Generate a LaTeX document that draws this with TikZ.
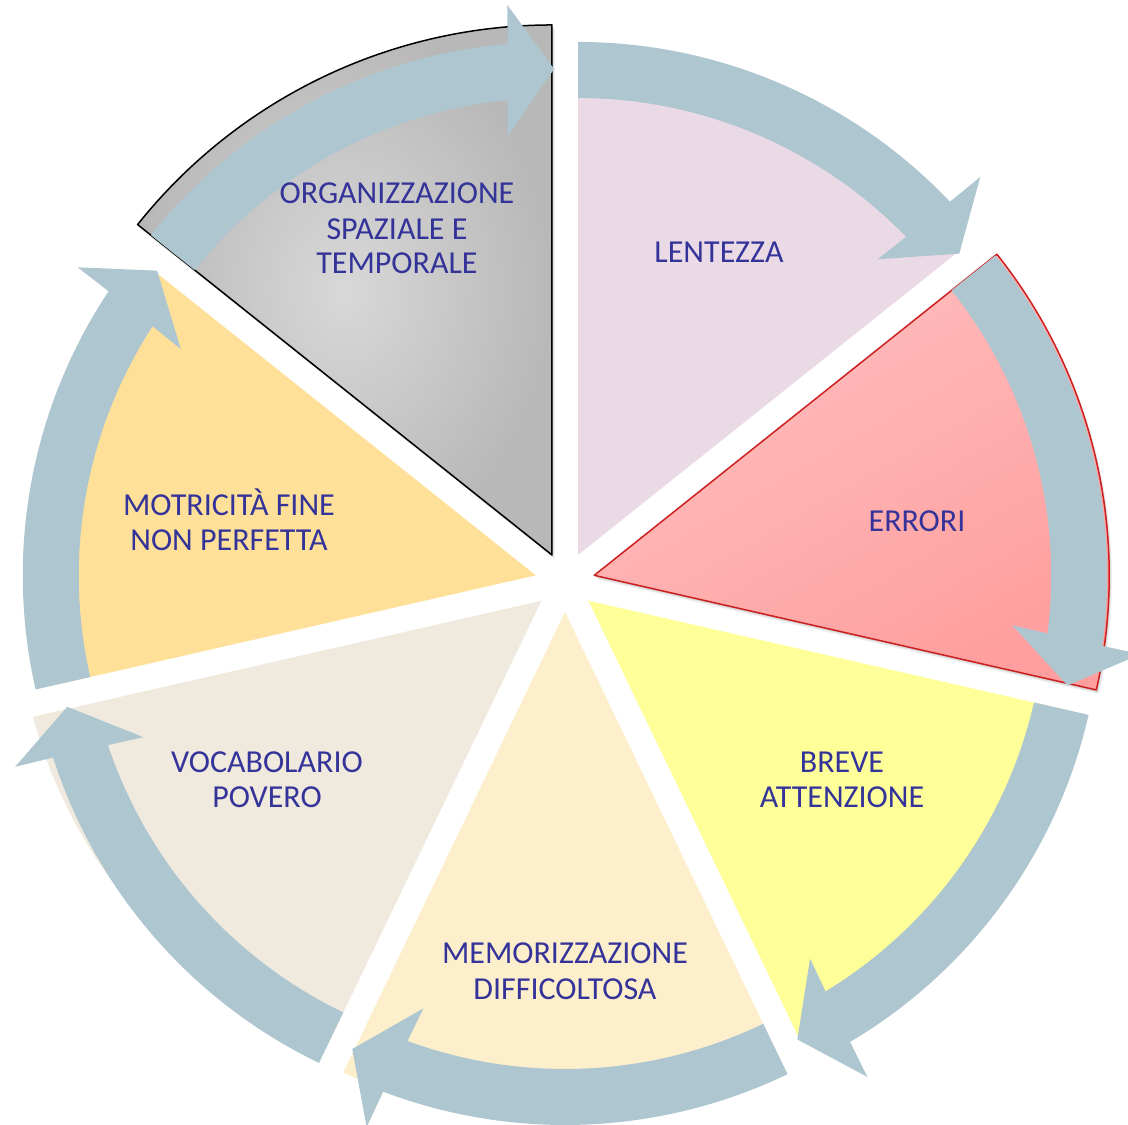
\documentclass[tikz,border=0pt]{standalone}
\usepackage{fontspec}
\setmainfont{Carlito}
\definecolor{arrowc}{RGB}{174,198,207}
\definecolor{lent}{RGB}{234,218,230}
\definecolor{errA}{RGB}{255,192,192}
\definecolor{errB}{RGB}{255,158,158}
\definecolor{errline}{RGB}{204,32,32}
\definecolor{breve}{RGB}{255,255,153}
\definecolor{memo}{RGB}{253,239,204}
\definecolor{voca}{RGB}{240,233,222}
\definecolor{motr}{RGB}{255,224,153}
\definecolor{grayA}{RGB}{216,216,216}
\definecolor{grayB}{RGB}{184,184,184}
\definecolor{txt}{RGB}{51,51,153}
% #1 start angle (ccw edge), #2 tip angle
\newcommand{\segarrow}[2]{%
  \fill[arrowc] (#1:513) arc[start angle=#1, end angle={#2+5.2}, radius=513]
    -- ({#2+4.9}:552) -- (#2:486) -- ({#2+6.3}:421) -- ({#2+5.8}:457)
    arc[start angle={#2+5.8}, end angle=#1, radius=457] -- cycle;}
\begin{document}
\begin{tikzpicture}[x=1pt,y=1pt,
  lbl/.style={text=txt, font=\fontsize{32}{36}\selectfont, inner sep=0pt, anchor=base}]
\useasboundingbox (-565,-543) rectangle (563,582);

% ---- slices ----
% ORGANIZZAZIONE (gray)
\begin{scope}[shift={(115.71:30)}]
  \foreach \o/\op in {1/0.08,2/0.06,3/0.05,4/0.04,5/0.03}{
    \begin{scope}[shift={(\o*0.6,-\o*0.9)}]
      \fill[black,opacity=\op] (0,0) -- (141.43:530) arc[start angle=141.43, end angle=90, radius=530] -- cycle;
    \end{scope}}
  \shade[inner color=grayA, outer color=grayB, draw=black, line width=1.5pt, line join=round]
    (0,0) -- (141.43:530) arc[start angle=141.43, end angle=90, radius=530] -- cycle;
\end{scope}
% LENTEZZA
\begin{scope}[shift={(64.29:30)}]
  \fill[lent] (0,0) -- (90:490) arc[start angle=90, end angle=38.57, radius=490] -- cycle;
\end{scope}
% ERRORI
\begin{scope}[shift={(12.86:30)}]
  \foreach \o/\op in {1/0.08,2/0.06,3/0.05,4/0.04,5/0.03}{
    \begin{scope}[shift={(\o*0.6,-\o*0.9)}]
      \fill[black,opacity=\op] (0,0) -- (38.57:515) arc[start angle=38.57, end angle=-12.86, radius=515] -- cycle;
    \end{scope}}
  \shade[top color=errA, bottom color=errB, shading angle=30, draw=errline, line width=1.5pt, line join=round]
    (0,0) -- (38.57:515) arc[start angle=38.57, end angle=-12.86, radius=515] -- cycle;
\end{scope}
% BREVE ATTENZIONE
\begin{scope}[shift={(-38.57:30)}]
  \fill[breve] (0,0) -- (-12.86:490) arc[start angle=-12.86, end angle=-64.29, radius=490] -- cycle;
\end{scope}
% MEMORIZZAZIONE
\begin{scope}[shift={(-90:30)}]
  \fill[memo] (0,0) -- (-64.29:511) arc[start angle=-64.29, end angle=-115.71, radius=511] -- cycle;
\end{scope}
% VOCABOLARIO
\begin{scope}[shift={(-141.43:30)}]
  \begin{scope}
    \clip (0,0) -- (-115.71:700) -- (-141.43:850) -- (-167.14:700) -- cycle;
    \fill[voca] (-41.4,7.3) circle[radius=483];
  \end{scope}
\end{scope}
% MOTRICITA
\begin{scope}[shift={(167.14:30)}]
  \fill[motr] (0,0) -- (192.86:485) arc[start angle=192.86, end angle=141.43, radius=485] -- cycle;
\end{scope}

% ---- arrows ----
\begin{scope}[shift={(115.71:30)}]\segarrow{141.43}{89.75}\end{scope}
\begin{scope}[shift={(64.29:30)}]\segarrow{90}{38.32}\end{scope}
\begin{scope}[shift={(12.86:30)}]\segarrow{38.57}{-13.11}\end{scope}
\begin{scope}[shift={(-38.57:30)}]\segarrow{-12.86}{-64.54}\end{scope}
\begin{scope}[shift={(-90:30)}]\segarrow{-64.29}{-115.96}\end{scope}
\begin{scope}[shift={(-141.43:30)}]\segarrow{-115.71}{-167.39}\end{scope}
\begin{scope}[shift={(167.14:30)}]\segarrow{192.86}{141.18}\end{scope}

% ---- labels ----
\node[lbl] (org1) at (-168,378.7) {ORGANIZZAZIONE};
\node[lbl] (org2) at (-168,342.7) {SPAZIALE E};
\node[lbl] (org3) at (-168,308) {TEMPORALE};
\node[lbl] (lent) at (154,319.7) {LENTEZZA};
\node[lbl] (err) at (352,50.7) {ERRORI};
\node[lbl] (bre1) at (277,-190.3) {BREVE};
\node[lbl] (bre2) at (277,-225.3) {ATTENZIONE};
\node[lbl] (mem1) at (0,-381.3) {MEMORIZZAZIONE};
\node[lbl] (mem2) at (0,-417.3) {DIFFICOLTOSA};
\node[lbl] (voc1) at (-298,-190.3) {VOCABOLARIO};
\node[lbl] (voc2) at (-298,-225.3) {POVERO};
\node[lbl] (mot1) at (-336,66.7) {MOTRICITÀ FINE};
\node[lbl] (mot2) at (-336,31.7) {NON PERFETTA};
\end{tikzpicture}
\end{document}
